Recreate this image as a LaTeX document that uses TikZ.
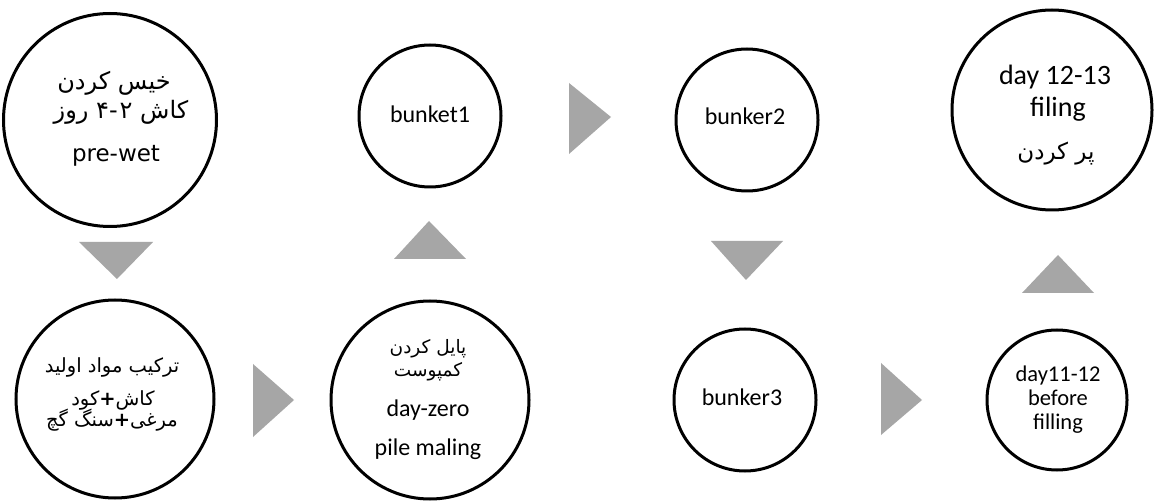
\documentclass[tikz,border=0pt]{standalone}
\usepackage{fontspec}
\TeXXeTstate=1
\newfontfamily\fafont[Script=Arabic]{DejaVu Sans}
\newfontfamily\fabold[Script=Arabic]{DejaVu Sans Bold}
\newfontfamily\calfont{Carlito}
\newfontfamily\dvfont{DejaVu Sans}
\definecolor{trigray}{HTML}{A6A6A6}
\begin{document}
\begin{tikzpicture}[x=1pt,y=-1pt,
  ring/.style={circle,draw=black,line width=3pt,inner sep=0pt,fill=white},
  tri/.style={fill=trigray},
  lat/.style={anchor=base,inner sep=0.5pt,font=\calfont\fontsize{24}{28}\selectfont},
  per/.style={anchor=base,inner sep=0.5pt,font=\fafont\fontsize{20}{24}\selectfont}]
\useasboundingbox (0,0) rectangle (1154,502);
\fill[white] (0,0) rectangle (1154,502);
% circles
\node[ring,minimum size=213pt] (c1) at (110,120) {};
\node[ring,minimum size=198pt] (c2) at (115,399) {};
\node[ring,minimum size=198pt] (c3) at (430,400) {};
\node[ring,minimum size=142pt] (c4) at (430,116) {};
\node[ring,minimum size=142pt] (c5) at (747,120) {};
\node[ring,minimum size=142pt] (c6) at (745,400) {};
\node[ring,minimum size=200pt] (c7) at (1052,110) {};
\node[ring,minimum size=140pt] (c8) at (1057,400) {};
% triangles
\fill[tri] (79,242) -- (153,242) -- (117,279) -- cycle;
\fill[tri] (394,259) -- (466,259) -- (429,221) -- cycle;
\fill[tri] (711,241) -- (783,241) -- (746,280) -- cycle;
\fill[tri] (1022,293) -- (1094,293) -- (1058,255) -- cycle;
\fill[tri] (253,364) -- (253,437) -- (294,400) -- cycle;
\fill[tri] (569,83) -- (569,154) -- (611,117) -- cycle;
\fill[tri] (881,363) -- (881,435) -- (922,400) -- cycle;
% circle 1 texts
\node[per,font=\fafont\fontsize{24}{28}\selectfont] (t1a) at (114,90) {\beginR خیس کردن\endR};
\node[per,font=\fafont\fontsize{24}{28}\selectfont] (t1b) at (121,119) {\beginR کاش ۲\kern2pt-۴ روز\endR};
\node[anchor=base,inner sep=0.5pt,font=\dvfont\fontsize{23}{27}\selectfont] (t1c) at (116,162) {pre-wet};
% circle 2 texts
\node[per,font=\fafont\fontsize{19.5}{23}\selectfont] (t2a) at (112,373) {\beginR ترکیب مواد اولید\endR};
\node[per,font=\fafont\fontsize{19.5}{23}\selectfont] (t2b) at (113,406) {\beginR کاش{\fabold+}کود\endR};
\node[per,font=\fafont\fontsize{19.5}{23}\selectfont] (t2c) at (112,427) {\beginR مرغی{\fabold+}سنگ گچ\endR};
% circle 3 texts
\node[per,font=\fafont\fontsize{18.5}{22}\selectfont] (t3a) at (428,354) {\beginR پایل کردن\endR};
\node[per,font=\fafont\fontsize{18.5}{22}\selectfont] (t3b) at (428,377) {\beginR کمپوست\endR};
\node[lat] (t3c) at (428,417) {day-zero};
\node[lat] (t3d) at (428,455) {pile maling};
% small circles
\node[lat] (t4) at (430,123) {bunket1};
\node[lat] (t5) at (745,125) {bunker2};
\node[lat] (t6) at (742,406) {bunker3};
\node[lat,font=\calfont\fontsize{22.5}{26}\selectfont] (t8a) at (1058,382) {day11-12};
\node[lat,font=\calfont\fontsize{22.5}{26}\selectfont] (t8b) at (1058,406) {before};
\node[lat,font=\calfont\fontsize{22.5}{26}\selectfont] (t8c) at (1058,429) {filling};
% circle 7 texts
\node[lat,font=\calfont\fontsize{28}{32}\selectfont] (t7a) at (1055,85) {day 12-13};
\node[lat,font=\calfont\fontsize{28}{32}\selectfont] (t7b) at (1058,117) {filing};
\node[per,font=\fafont\fontsize{23}{27}\selectfont] (t7c) at (1056,160) {\beginR پر کردن\endR};
\end{tikzpicture}
\end{document}
